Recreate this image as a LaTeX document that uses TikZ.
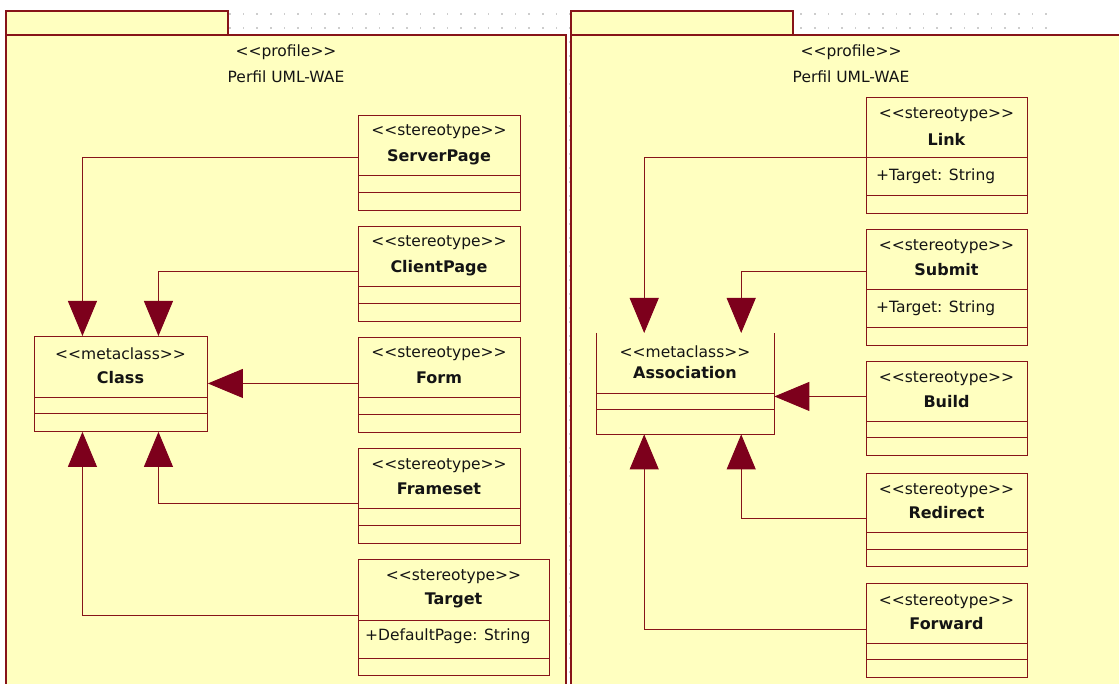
\documentclass[tikz,border=0pt]{standalone}
\usepackage{fontspec}
\setmainfont{DejaVu Sans}
\usetikzlibrary{arrows.meta}
\definecolor{pkgfill}{RGB}{255,255,192}
\definecolor{edge}{RGB}{135,20,25}
\definecolor{tipc}{RGB}{125,0,28}
\definecolor{gridc}{RGB}{205,205,205}
\definecolor{ink}{RGB}{20,20,20}
% guillemet-free double angle brackets
\newcommand\stq[1]{<{}<#1>{}>}
\tikzset{
  pkg/.style={draw=edge, fill=pkgfill, line width=1.1pt},
  cls/.style={draw=edge, fill=pkgfill, line width=0.9pt, inner sep=0pt, anchor=north west},
  sep/.style={draw=edge, line width=0.9pt},
  stereo/.style={inner sep=0pt, text=ink, font=\fontsize{15.5}{18}\selectfont},
  ctitle/.style={inner sep=0pt, text=ink, font=\fontsize{16}{18}\selectfont\bfseries},
  attr/.style={inner sep=0pt, text=ink, anchor=west, font=\fontsize{15.5}{18}\selectfont},
  gen/.style={draw=edge, line width=0.9pt, -{Triangle[length=35pt,width=29pt,fill=tipc,color=tipc]}}
}
\begin{document}
\begin{tikzpicture}[x=1pt,y=-1pt]
\useasboundingbox (0,0) rectangle (1119,684);
\clip (0,0) rectangle (1119,684);
\fill[white] (0,0) rectangle (1119,684);
% dotted drawing grid
\foreach \i in {0,...,77} {
  \foreach \j in {1,...,49} {
    \fill[gridc] (1046-13.6*\i-0.8, 14*\j-0.8) rectangle ++(1.6,1.6);
  }
}

% ---------- packages ----------
\draw[pkg] (6,11) rectangle (228,35);
\draw[pkg] (6,35) rectangle (566,700);
\draw[pkg] (571,11) rectangle (793,35);
\draw[pkg] (571,35) rectangle (1131,700);

\node[stereo] (p1s) at (286,52) {\stq{profile}};
\node[stereo] (p1n) at (286,77) {Perfil UML-WAE};
\node[stereo] (p2s) at (851,52) {\stq{profile}};
\node[stereo] (p2n) at (851,77) {Perfil UML-WAE};

% ---------- left profile: metaclass Class ----------
\node[cls, minimum width=173pt, minimum height=95pt] (cl) at (34,336) {};
\draw[sep] (34,397) -- (207,397);
\draw[sep] (34,413) -- (207,413);
\node[stereo] at (120.5,354) {\stq{metaclass}};
\node[ctitle] at (120.5,378) {Class};

% ServerPage
\node[cls, minimum width=162pt, minimum height=95pt] (sp) at (358,115) {};
\draw[sep] (358,175) -- (520,175);
\draw[sep] (358,192) -- (520,192);
\node[stereo] at (439,132) {\stq{stereotype}};
\node[ctitle] at (439,157) {ServerPage};

% ClientPage
\node[cls, minimum width=162pt, minimum height=95pt] (cp) at (358,226) {};
\draw[sep] (358,286) -- (520,286);
\draw[sep] (358,303) -- (520,303);
\node[stereo] at (439,243) {\stq{stereotype}};
\node[ctitle] at (439,268) {ClientPage};

% Form
\node[cls, minimum width=162pt, minimum height=95pt] (fm) at (358,337) {};
\draw[sep] (358,397) -- (520,397);
\draw[sep] (358,414) -- (520,414);
\node[stereo] at (439,354) {\stq{stereotype}};
\node[ctitle] at (439,378) {Form};

% Frameset
\node[cls, minimum width=162pt, minimum height=95pt] (fs) at (358,448) {};
\draw[sep] (358,508) -- (520,508);
\draw[sep] (358,525) -- (520,525);
\node[stereo] at (439,466) {\stq{stereotype}};
\node[ctitle] at (439,489) {Frameset};

% Target
\node[cls, minimum width=191pt, minimum height=116pt] (tg) at (358,559) {};
\draw[sep] (358,620) -- (549,620);
\draw[sep] (358,658) -- (549,658);
\node[stereo] at (453.5,577) {\stq{stereotype}};
\node[ctitle] at (453.5,600) {Target};
\node[attr] at (365,636) {+DefaultPage: String};

% generalisations towards Class
\draw[gen] ([yshift=5.5pt]sp.west) -| ([xshift=-38.5pt]cl.north);
\draw[gen] ([yshift=2.5pt]cp.west) -| ([xshift=37.5pt]cl.north);
\draw[gen] ([yshift=1.5pt]fm.west) -- ([yshift=1.5pt]fm.west -| cl.east);
\draw[gen] ([yshift=-7.5pt]fs.west) -| ([xshift=37.5pt]cl.south);
\draw[gen] ([yshift=2pt]tg.west) -| ([xshift=-38.5pt]cl.south);

% ---------- right profile: metaclass Association ----------
\node[fill=pkgfill, inner sep=0pt, anchor=north west, minimum width=178pt, minimum height=101pt] (as) at (596,333) {};
\draw[sep] (as.north west) -- (as.south west) -- (as.south east) -- (as.north east);
\draw[sep] (596,393) -- (774,393);
\draw[sep] (596,409) -- (774,409);
\node[stereo] at (685,352) {\stq{metaclass}};
\node[ctitle] at (685,373) {Association};

% Link
\node[cls, minimum width=161pt, minimum height=116pt] (lk) at (866,97) {};
\draw[sep] (866,157) -- (1027,157);
\draw[sep] (866,195) -- (1027,195);
\node[stereo] at (946.5,115) {\stq{stereotype}};
\node[ctitle] at (946.5,139) {Link};
\node[attr] at (876,176) {+Target: String};

% Submit
\node[cls, minimum width=161pt, minimum height=116pt] (sb) at (866,229) {};
\draw[sep] (866,289) -- (1027,289);
\draw[sep] (866,327) -- (1027,327);
\node[stereo] at (946.5,247) {\stq{stereotype}};
\node[ctitle] at (946.5,270) {Submit};
\node[attr] at (876,308) {+Target: String};

% Build
\node[cls, minimum width=161pt, minimum height=94pt] (bd) at (866,361) {};
\draw[sep] (866,421) -- (1027,421);
\draw[sep] (866,437) -- (1027,437);
\node[stereo] at (946.5,379) {\stq{stereotype}};
\node[ctitle] at (946.5,402) {Build};

% Redirect
\node[cls, minimum width=161pt, minimum height=93pt] (rd) at (866,473) {};
\draw[sep] (866,532) -- (1027,532);
\draw[sep] (866,549) -- (1027,549);
\node[stereo] at (946.5,491) {\stq{stereotype}};
\node[ctitle] at (946.5,513) {Redirect};

% Forward
\node[cls, minimum width=161pt, minimum height=94pt] (fw) at (866,583) {};
\draw[sep] (866,643) -- (1027,643);
\draw[sep] (866,659) -- (1027,659);
\node[stereo] at (946.5,602) {\stq{stereotype}};
\node[ctitle] at (946.5,624) {Forward};

% generalisations towards Association
\draw[gen] ([yshift=-2pt]lk.west) -| ([xshift=-41pt]as.north);
\draw[gen] ([yshift=16pt]sb.west) -| ([xshift=56pt]as.north);
\draw[gen] ([yshift=12pt]bd.west) -- ([yshift=12pt]bd.west -| as.east);
\draw[gen] ([yshift=1.5pt]rd.west) -| ([xshift=56pt]as.south);
\draw[gen] ([yshift=1pt]fw.west) -| ([xshift=-41pt]as.south);
\end{tikzpicture}
\end{document}
